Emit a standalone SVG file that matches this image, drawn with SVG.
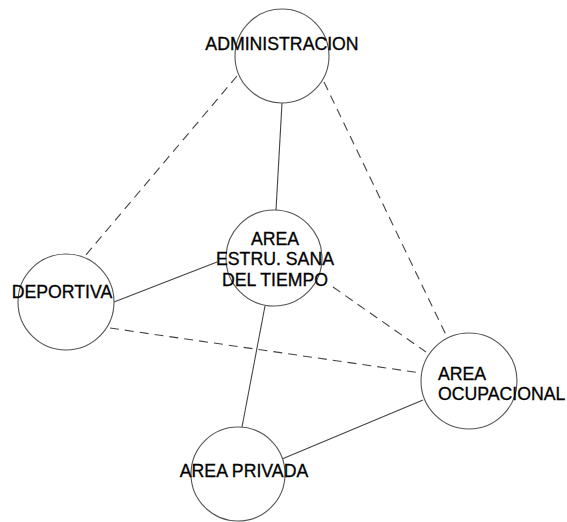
<svg xmlns="http://www.w3.org/2000/svg" width="567" height="522" viewBox="0 0 567 522">
<style>
.n{fill:#fff;stroke:#555;stroke-width:1.1}
.t{font-family:"Liberation Sans",Arial,sans-serif;font-size:17.7px;fill:#000;stroke:#000;stroke-width:0.3}
.s{stroke:#444;stroke-width:1.1;fill:none}
.d{stroke:#444;stroke-width:1.1;fill:none;stroke-dasharray:9 6}
</style>
<rect width="567" height="522" fill="#fff"/>
<g id="connectors">
<line class="s" x1="282" y1="103" x2="276" y2="210"/>
<line class="d" x1="237" y1="76" x2="85" y2="256"/>
<line class="d" x1="324" y1="82" x2="447" y2="337"/>
<line class="s" x1="217" y1="262" x2="114" y2="302"/>
<line class="d" x1="333" y1="287" x2="426" y2="352"/>
<line class="d" x1="110" y1="328" x2="421" y2="373"/>
<line class="s" x1="265" y1="306" x2="242" y2="427"/>
<line class="s" x1="282" y1="459" x2="423" y2="400"/>
</g>
<g id="administracion">
<circle class="n" cx="282" cy="56" r="47"/>
<text class="t" x="282" y="50" text-anchor="middle">ADMINISTRACION</text>
</g>
<g id="area-estru">
<circle class="n" cx="274" cy="258" r="48"/>
<text class="t" x="275" y="245" text-anchor="middle">AREA</text>
<text class="t" x="275" y="265" text-anchor="middle">ESTRU. SANA</text>
<text class="t" x="275" y="286" text-anchor="middle">DEL TIEMPO</text>
</g>
<g id="deportiva">
<circle class="n" cx="66" cy="302" r="48"/>
<text class="t" x="62" y="298" text-anchor="middle">DEPORTIVA</text>
</g>
<g id="area-ocupacional">
<circle class="n" cx="469" cy="381" r="48"/>
<text class="t" x="438" y="380">AREA</text>
<text class="t" x="438" y="400">OCUPACIONAL</text>
</g>
<g id="area-privada">
<circle class="n" cx="238" cy="474" r="47"/>
<text class="t" x="244" y="477" text-anchor="middle">AREA PRIVADA</text>
</g>
</svg>
